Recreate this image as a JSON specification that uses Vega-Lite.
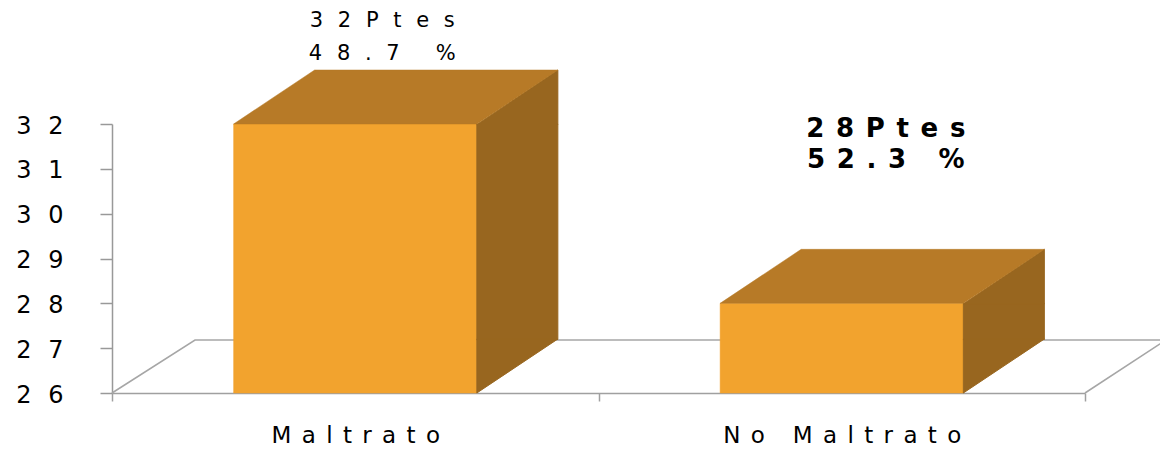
{
  "$schema": "https://vega.github.io/schema/vega-lite/v6.json",
  "width": 973,
  "height": 269,
  "autosize": {"type": "none"},
  "padding": {"left": 112, "top": 124, "right": 75, "bottom": 60},
  "background": "white",
  "config": {"view": {"stroke": null}, "font": "DejaVu Sans"},
  "data": {"values": [
    {"grupo": "Maltrato", "pacientes": 32, "pts": "32Ptes", "pct": "48.7 %"},
    {"grupo": "No Maltrato", "pacientes": 28, "pts": "28Ptes", "pct": "52.3 %"}
  ]},
  "encoding": {
    "x": {
      "field": "grupo", "type": "nominal", "sort": null,
      "scale": {"paddingInner": 0, "paddingOuter": 0},
      "axis": {
        "title": null, "domainColor": "#a0a0a0", "domainWidth": 1.5,
        "tickColor": "#a0a0a0", "tickWidth": 1.5, "tickSize": 8, "tickBand": "extent",
        "labelFont": "DejaVu Sans", "labelFontSize": 23, "labelColor": "#000000",
        "labelPadding": 23, "labelAngle": 0, "labelLimit": 600,
        "labelExpr": "join(split(datum.label,''),'\u2005\u2009')"
      }
    }
  },
  "layer": [
    {
      "transform": [{"filter": "datum.grupo === 'Maltrato'"}],
      "mark": {"type": "point", "shape": "M-243.25,0L-160.25,-53L810.75,-53L729.75,0", "size": 4, "filled": false, "stroke": "#a6a6a6", "strokeWidth": 1.5, "opacity": 1},
      "encoding": {
        "y": {
          "datum": 26, "type": "quantitative",
          "scale": {"domain": [26, 32], "nice": false, "zero": false},
          "axis": {
            "values": [26, 27, 28, 29, 30, 31, 32], "title": null, "grid": false,
            "domainColor": "#999999", "domainWidth": 1.5, "tickColor": "#999999", "tickWidth": 1.5, "tickSize": 12,
            "labelFont": "DejaVu Sans", "labelFontSize": 24, "labelColor": "#000000",
            "labelPadding": 37, "labelOffset": 2,
            "labelExpr": "join(split(datum.label,''),'\u2002\u2009')"
          }
        }
      }
    },
    {
      "mark": {"type": "bar", "width": {"band": 0.5}, "color": "#F2A32E", "stroke": "#F2A32E", "strokeWidth": 0.5},
      "encoding": {
        "y": {"field": "pacientes", "type": "quantitative"},
        "y2": {"datum": 26}
      }
    },
    {
      "mark": {"type": "bar", "width": 81, "xOffset": 162.1, "y2Offset": -53.5, "color": "#98661F", "stroke": "#98661F", "strokeWidth": 1},
      "encoding": {
        "y": {"field": "pacientes", "type": "quantitative"},
        "y2": {"datum": 26}
      }
    },
    {
      "mark": {"type": "point", "shape": "M121.6,0.5L202.6,-54L202.6,0.5Z", "size": 4, "filled": true, "color": "#98661F", "stroke": "#98661F", "strokeWidth": 1, "opacity": 1},
      "encoding": {
        "y": {"field": "pacientes", "type": "quantitative"}
      }
    },
    {
      "mark": {"type": "point", "shape": "M121.6,0L202.6,-54L121.6,-54Z", "size": 4, "filled": true, "color": "#98661F", "stroke": "#98661F", "strokeWidth": 1, "opacity": 1},
      "encoding": {
        "y": {"datum": 26, "type": "quantitative"}
      }
    },
    {
      "mark": {"type": "point", "shape": "M-121.6,0L-40.6,-54L202.6,-54L121.6,0Z", "size": 4, "filled": true, "color": "#B77A27", "stroke": "#B77A27", "strokeWidth": 0.5, "opacity": 1},
      "encoding": {
        "y": {"field": "pacientes", "type": "quantitative"}
      }
    },
    {
      "transform": [{"filter": "datum.grupo === 'Maltrato'"}],
      "mark": {
        "type": "text", "font": "DejaVu Sans", "fontSize": 21, "fontWeight": "normal", "color": "#000000",
        "align": "center", "baseline": "alphabetic", "dx": 27, "dy": -97, "lineHeight": 33,
        "text": {"expr": "[join(split(datum.pts,''),'\u2002\u2009'), join(split(datum.pct,''),'\u2002\u2009')]"}
      },
      "encoding": {
        "y": {"field": "pacientes", "type": "quantitative"}
      }
    },
    {
      "transform": [{"filter": "datum.grupo === 'No Maltrato'"}],
      "mark": {
        "type": "text", "font": "DejaVu Sans", "fontSize": 26, "fontWeight": "bold", "color": "#000000",
        "align": "center", "baseline": "alphabetic", "dx": 44, "dy": -166, "lineHeight": 31,
        "text": {"expr": "[join(split(datum.pts,''),'\u2009\u2005'), join(split(datum.pct,''),'\u2009\u2005')]"}
      },
      "encoding": {
        "y": {"field": "pacientes", "type": "quantitative"}
      }
    }
  ]
}
